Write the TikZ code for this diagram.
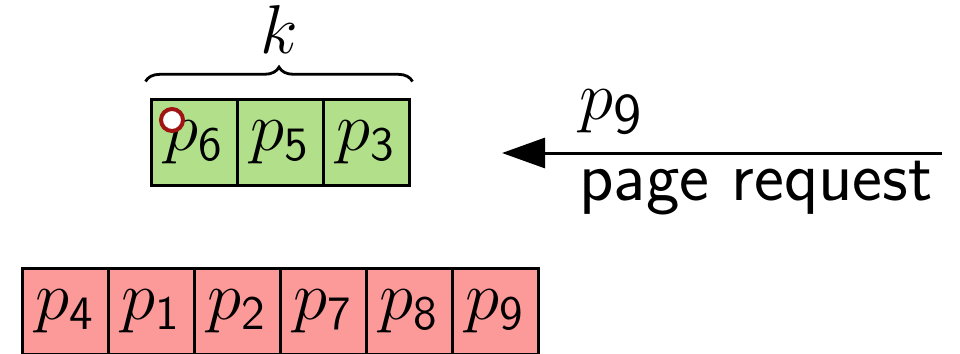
\documentclass[tikz,border=0pt]{standalone}
\usetikzlibrary{arrows.meta,decorations.pathreplacing}

\definecolor{cachegreen}{RGB}{178,223,138}
\definecolor{evictred}{RGB}{251,154,153}
\definecolor{markred}{RGB}{160,20,20}

\tikzset{
  cell/.style={draw=black, line width=0.75pt, minimum width=21.5pt,
    minimum height=21.5pt, inner sep=0pt, anchor=center,
    font=\fontsize{18.5}{22}\selectfont},
  incache/.style={cell, fill=cachegreen},
  evicted/.style={cell, fill=evictred},
  lbl/.style={font=\fontsize{17.8}{21}\selectfont\sffamily, inner sep=0pt},
}
\newcommand{\pg}[1]{$p_{\mathsf{#1}}$}

\begin{document}
\begin{tikzpicture}[x=0.25pt, y=-0.25pt]
  \useasboundingbox (0,0) rectangle (960,353);
  \clip (0,0) rectangle (960,353);

  % cache contents
  \node[incache] (c1) at (194,142) {\pg{6}};
  \node[incache] (c2) at (280,142) {\pg{5}};
  \node[incache] (c3) at (366,142) {\pg{3}};

  % marker on the first cache slot
  \node[circle, draw=markred, fill=white, line width=1pt, minimum size=5.5pt,
        inner sep=0pt] (mark) at (172,120) {};

  % brace over the cache with its size
  \draw[line width=0.7pt, decorate, decoration={brace, amplitude=3.6pt}]
    ([xshift=-1pt,yshift=4pt]c1.north west) -- ([xshift=0.5pt,yshift=4pt]c3.north east)
    node[midway, above=3.2pt, font=\fontsize{16}{19}\selectfont] (k) {$k$};

  % incoming request
  \coordinate (src) at (942,153);
  \coordinate (dst) at (502,153);
  \draw[line width=0.75pt, -{Triangle[length=10.75pt, width=7.5pt]}] (src) -- (dst);
  \node[lbl] (req) at (612,112) {\fontsize{19}{22}\selectfont\pg{9}};
  \node[lbl] (reqtxt) at (756,188) {page request};

  % evicted pages
  \node[evicted] (e1) at (65,311)  {\pg{4}};
  \node[evicted] (e2) at (151,311) {\pg{1}};
  \node[evicted] (e3) at (237,311) {\pg{2}};
  \node[evicted] (e4) at (323,311) {\pg{7}};
  \node[evicted] (e5) at (409,311) {\pg{8}};
  \node[evicted] (e6) at (495,311) {\pg{9}};
\end{tikzpicture}
\end{document}
